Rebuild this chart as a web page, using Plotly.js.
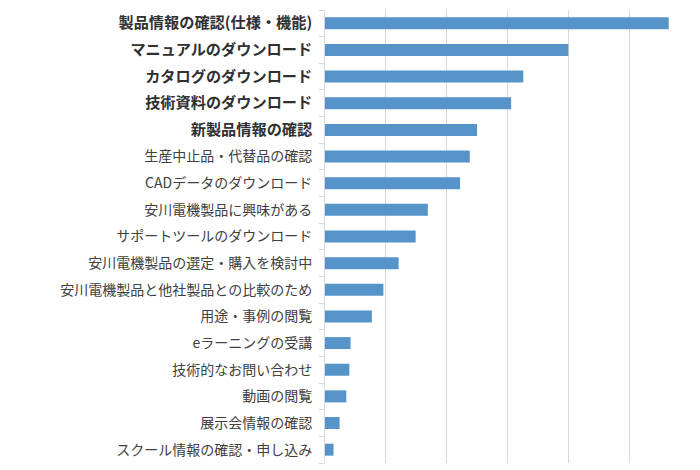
<!DOCTYPE html>
<html>
<head>
<meta charset="utf-8">
<script src="https://cdn.plot.ly/plotly-3.0.1.min.js"></script>
<style>html,body{margin:0;padding:0;background:#fff;}#chart{width:700px;height:470px;}</style>
</head>
<body>
<div id="chart"></div>
<script>
var categories = [
  "製品情報の確認(仕様・機能)",
  "マニュアルのダウンロード",
  "カタログのダウンロード",
  "技術資料のダウンロード",
  "新製品情報の確認",
  "生産中止品・代替品の確認",
  "CADデータのダウンロード",
  "安川電機製品に興味がある",
  "サポートツールのダウンロード",
  "安川電機製品の選定・購入を検討中",
  "安川電機製品と他社製品との比較のため",
  "用途・事例の閲覧",
  "eラーニングの受講",
  "技術的なお問い合わせ",
  "動画の閲覧",
  "展示会情報の確認",
  "スクール情報の確認・申し込み"
];
var values = [56.5, 40.0, 32.6, 30.6, 25.0, 23.8, 22.2, 16.9, 14.9, 12.1, 9.6, 7.7, 4.2, 4.0, 3.5, 2.4, 1.4];
var boldFlags = [true, true, true, true, true, false, false, false, false, false, false, false, false, false, false, false, false];
var tickLabels = categories.map(function (c, i) {
  return boldFlags[i] ? '<span style="font-size:15.2px;font-weight:bold;fill:#303030">' + c + '</span>' : c;
});

var trace = {
  type: "bar",
  orientation: "h",
  x: values,
  y: categories,
  marker: { color: "#5593c9" },
  hoverinfo: "x+y"
};

var layout = {
  width: 700,
  height: 470,
  margin: { l: 325, r: 10, t: 10, b: 7 },
  paper_bgcolor: "#ffffff",
  plot_bgcolor: "#ffffff",
  bargap: 0.55,
  showlegend: false,
  font: { family: "Noto Sans CJK JP, sans-serif", color: "#404040", size: 14 },
  xaxis: {
    range: [0, 60],
    dtick: 10,
    tick0: 0,
    showticklabels: false,
    showgrid: true,
    gridcolor: "#d9d9d9",
    gridwidth: 1,
    zeroline: false,
    showline: false,
    ticks: ""
  },
  yaxis: {
    type: "category",
    autorange: "reversed",
    tickvals: categories,
    ticktext: tickLabels,
    showline: true,
    linecolor: "#d9d9d9",
    linewidth: 1,
    ticks: "outside",
    tickson: "boundaries",
    ticklen: 5,
    tickcolor: "#d9d9d9",
    tickwidth: 1,
    showgrid: false,
    zeroline: false,
    ticklabelstandoff: 9,
    tickfont: { family: "Noto Sans CJK JP, sans-serif", size: 14, color: "#404040" }
  }
};

Plotly.newPlot("chart", [trace], layout, { displayModeBar: false, staticPlot: true });
</script>
</body>
</html>
